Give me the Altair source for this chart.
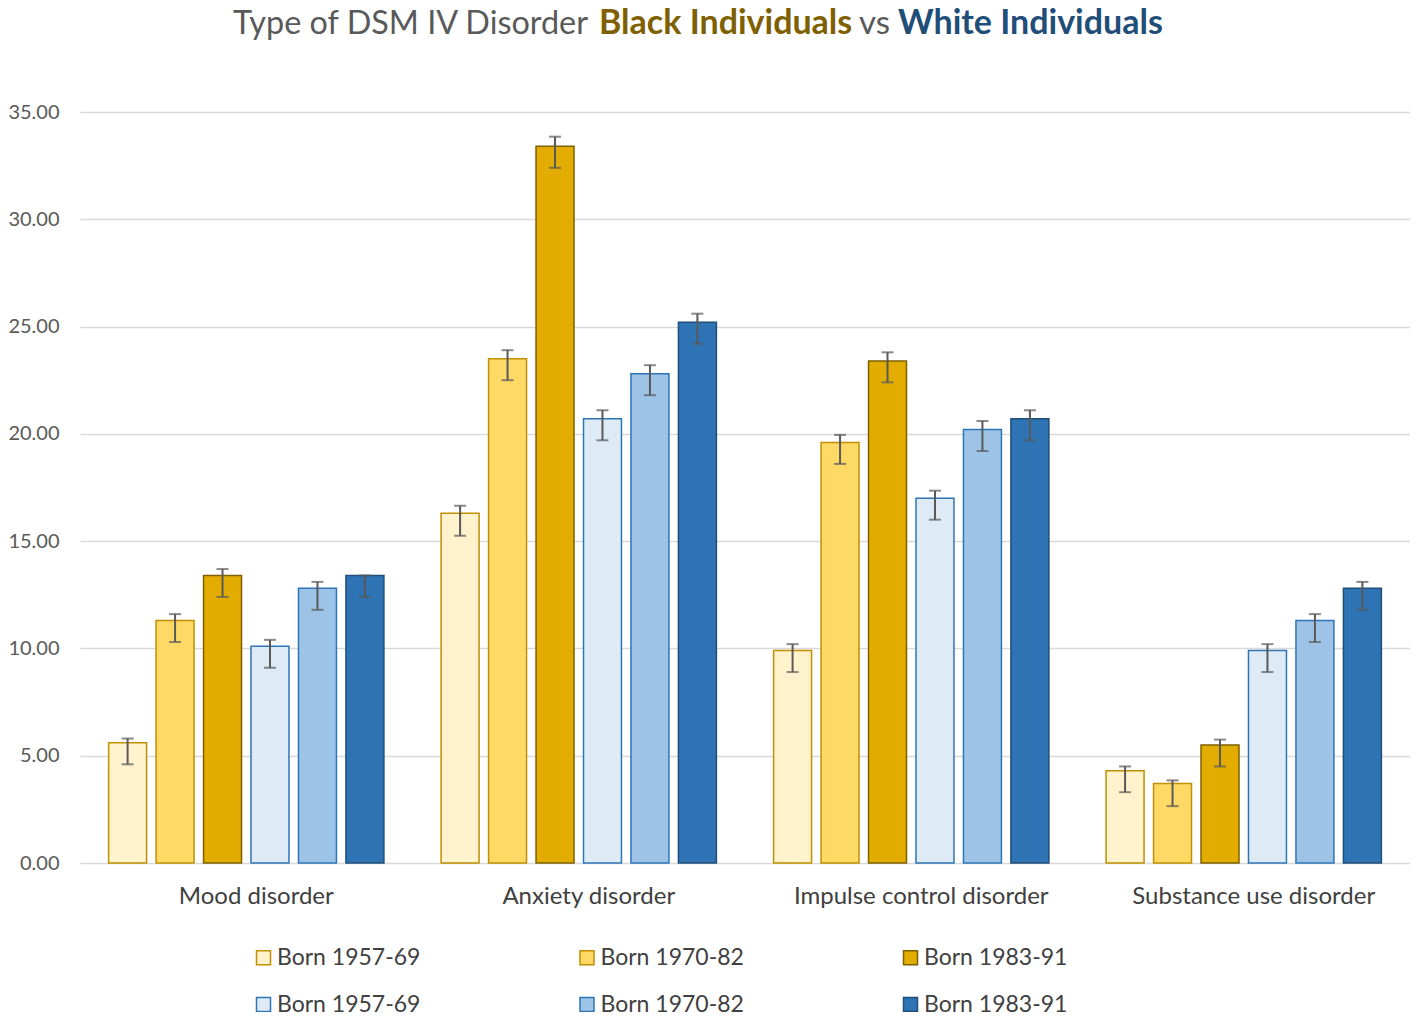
import altair as alt
import pandas as pd

categories = ["Mood disorder", "Anxiety disorder", "Impulse control disorder", "Substance use disorder"]
series_keys = ["B1957", "B1970", "B1983", "W1957", "W1970", "W1983"]
series_labels = ["Born 1957-69", "Born 1970-82", "Born 1983-91", "Born 1957-69", "Born 1970-82", "Born 1983-91"]
fill_colors = ["#FFF2CC", "#FFD966", "#E2AC00", "#DEEBF7", "#9DC3E6", "#2E74B5"]
stroke_colors = ["#BF9000", "#BF9000", "#7F6000", "#2E75B6", "#2E75B6", "#1F4E79"]

values_b1957 = [5.6, 16.3, 9.9, 4.3]
values_b1970 = [11.3, 23.5, 19.6, 3.7]
values_b1983 = [13.4, 33.4, 23.4, 5.5]
values_w1957 = [10.1, 20.7, 17.0, 9.9]
values_w1970 = [12.8, 22.8, 20.2, 11.3]
values_w1983 = [13.4, 25.2, 20.7, 12.8]

upper_b1957 = [5.8, 16.65, 10.2, 4.5]
upper_b1970 = [11.6, 23.9, 19.95, 3.85]
upper_b1983 = [13.7, 33.85, 23.8, 5.75]
upper_w1957 = [10.4, 21.1, 17.35, 10.2]
upper_w1970 = [13.1, 23.2, 20.6, 11.6]
upper_w1983 = [13.4, 25.6, 21.1, 13.1]

lower_b1957 = [4.6, 15.25, 8.9, 3.3]
lower_b1970 = [10.3, 22.5, 18.6, 2.65]
lower_b1983 = [12.4, 32.4, 22.4, 4.5]
lower_w1957 = [9.1, 19.7, 16.0, 8.9]
lower_w1970 = [11.8, 21.8, 19.2, 10.3]
lower_w1983 = [12.4, 24.2, 19.7, 11.8]

y_ticks = [0, 5, 10, 15, 20, 25, 30, 35]

title_texts = ["Type of DSM IV Disorder", "Black Individuals", "vs", "White Individuals"]
title_colors = ["#595959", "#7F6000", "#595959", "#1F4E79"]
title_weights = ["normal", "bold", "normal", "bold"]
title_sizes = [32.4, 34, 33, 34]
title_x = [153, 519, 779, 818]

values = [values_b1957, values_b1970, values_b1983, values_w1957, values_w1970, values_w1983]
uppers = [upper_b1957, upper_b1970, upper_b1983, upper_w1957, upper_w1970, upper_w1983]
lowers = [lower_b1957, lower_b1970, lower_b1983, lower_w1957, lower_w1970, lower_w1983]

rows = []
for k, vals, ups, los in zip(series_keys, values, uppers, lowers):
    for i, c in enumerate(categories):
        rows.append({"category": c, "series": k, "value": vals[i], "hi": ups[i], "lo": los[i]})
df = pd.DataFrame(rows)

label_expr = (
    "indexof(['B1957','W1957'], datum.label) >= 0 ? 'Born 1957-69' : "
    "(indexof(['B1970','W1970'], datum.label) >= 0 ? 'Born 1970-82' : 'Born 1983-91')"
)

FONT = "Lato"

legend = alt.Legend(
    title=None, orient="none", legendX=172, legendY=834, columns=3, direction="horizontal",
    symbolType="square", symbolSize=196, symbolStrokeWidth=1.5, symbolOffset=0,
    labelFontSize=23, labelFont=FONT, labelColor="#404040", labelOffset=2,
    columnPadding=154.5, rowPadding=23, labelExpr=label_expr, padding=0,
)

x_enc = alt.X(
    "category:N", sort=categories,
    scale=alt.Scale(paddingInner=0.1435, paddingOuter=0.0718),
    axis=alt.Axis(title=None, labelAngle=0, ticks=False, domain=False, labelFontSize=24,
                  labelFont=FONT, labelColor="#404040", labelPadding=21, labelLimit=500,
                  labelOffset=10),
)
xoff_enc = alt.XOffset("series:N", sort=series_keys, scale=alt.Scale(paddingInner=0.2, paddingOuter=0.1))

base = alt.Chart(df)

bars = base.mark_bar(strokeWidth=1.5).encode(
    x=x_enc,
    xOffset=xoff_enc,
    y=alt.Y("value:Q", scale=alt.Scale(domain=[0, 35], nice=False),
            axis=alt.Axis(title=None, values=y_ticks, format=".2f", ticks=False, domain=False,
                          labelFontSize=20, labelFont=FONT, labelColor="#595959", labelPadding=21,
                          gridColor="#D9D9D9", gridWidth=1.5)),
    fill=alt.Fill("series:N", scale=alt.Scale(domain=series_keys, range=fill_colors), legend=legend),
    stroke=alt.Stroke("series:N", scale=alt.Scale(domain=series_keys, range=stroke_colors), legend=legend),
)

rules = base.mark_rule(color="#595959", strokeWidth=2).encode(
    x=alt.X("category:N", sort=categories),
    xOffset=alt.XOffset("series:N", sort=series_keys),
    y="lo:Q", y2="hi:Q",
)
caps_hi = base.mark_tick(color="#595959", thickness=2, size=12, orient="horizontal").encode(
    x=alt.X("category:N", sort=categories),
    xOffset=alt.XOffset("series:N", sort=series_keys),
    y="hi:Q",
)
caps_lo = base.mark_tick(color="#595959", thickness=2, size=12, orient="horizontal").encode(
    x=alt.X("category:N", sort=categories),
    xOffset=alt.XOffset("series:N", sort=series_keys),
    y="lo:Q",
)

title_layers = []
for t, c, w, s, px in zip(title_texts, title_colors, title_weights, title_sizes, title_x):
    title_layers.append(
        alt.Chart(pd.DataFrame({"t": [t]})).mark_text(
            align="left", baseline="alphabetic", font=FONT, fontSize=s, fontWeight=w, color=c
        ).encode(x=alt.value(px), y=alt.value(-78), text="t:N")
    )

chart = alt.layer(bars, rules, caps_hi, caps_lo, *title_layers).properties(
    width=1330, height=751,
    autosize=alt.AutoSizeParams(type="none"),
    padding={"left": 72, "top": 104, "right": 0, "bottom": 149},
    background="white",
).configure_view(stroke=None)

chart.save("out.html", embed_options={"renderer": "svg", "actions": False})
